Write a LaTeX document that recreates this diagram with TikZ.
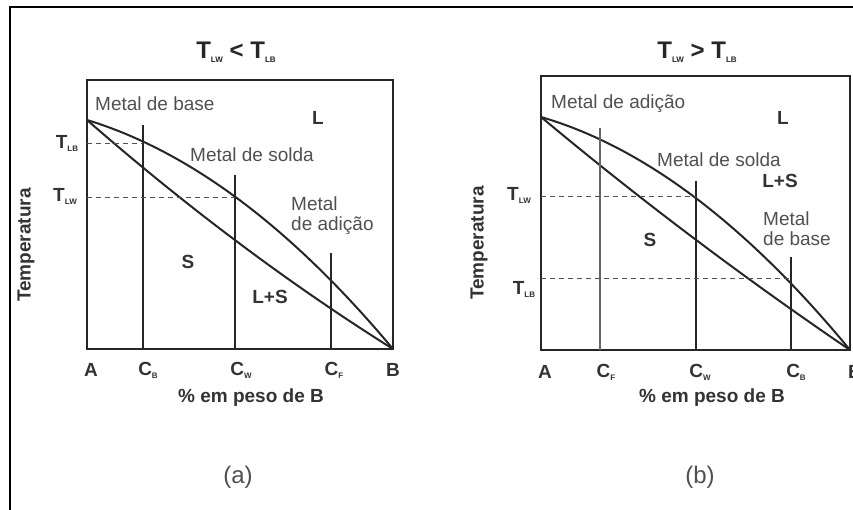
\documentclass[tikz,border=0pt]{standalone}
\usepackage{fontspec}
\setmainfont{Liberation Sans}
\usetikzlibrary{positioning}
\definecolor{lineg}{RGB}{38,38,38}
\definecolor{textg}{RGB}{80,80,80}
\newcommand{\idx}[1]{\raisebox{-0.3ex}{\fontsize{8}{8}\selectfont#1}}

\begin{document}
\begin{tikzpicture}[x=1pt,y=-1pt,
  boxframe/.style={line width=2.8pt,draw=lineg},
  curve/.style={line width=2pt,draw=lineg},
  vline/.style={line width=1.8pt,draw=lineg},
  guide/.style={line width=0.8pt,draw=lineg!80,dash pattern=on 5pt off 4pt},
  lbl/.style={font=\fontsize{19}{21}\selectfont,text=textg,inner sep=0pt,align=left},
  blbl/.style={font=\fontsize{19}{21}\selectfont\bfseries,text=black!80,inner sep=0pt},
  ttl/.style={font=\fontsize{24}{26}\selectfont\bfseries,text=black!85,inner sep=0pt}]
\clip (0,0) rectangle (853,510);
\draw[line width=2.4pt,draw=black] (10,515)--(10,7)--(860,7);
% (a) T_LW < T_LB
\node[ttl] (titlea) at (236,52) {T\idx{LW} < T\idx{LB}};
\draw[boxframe] (87,80) rectangle (393,349);
\coordinate (a0) at (87,120); \coordinate (a1) at (393,349);
\draw[curve] (a0) .. controls (189,151) and (291,227) .. (a1);
\draw[curve] (a0) .. controls (189,209) and (291,285) .. (a1);
\draw[vline] (143,125)--(143,349);
\draw[vline] (235,175)--(235,349);
\draw[vline] (331,253)--(331,349);
\draw[guide] (87,143)--(143,143);
\draw[guide] (87,197)--(235,197);
\node[blbl] (tlba) at (67,143) {T\idx{LB}};
\node[blbl] (tlwa) at (65,196) {T\idx{LW}};
\node[blbl,rotate=90] (tempa) at (26,245) {Temperatura};
\node[lbl,anchor=west] (basea) at (95,104) {Metal de base};
\node[blbl] (liqa) at (318,118) {L};
\node[lbl,anchor=west] (soldaa) at (190,155) {Metal de solda};
\node[lbl,anchor=west] (adica) at (291,216) {Metal\\[-1pt]de adição};
\node[blbl] (sola) at (188,262) {S};
\node[blbl] (lsa) at (270,297) {L+S};
\node[blbl] (aA) at (91,370) {A};
\node[blbl] (aCb) at (148,370) {C\idx{B}};
\node[blbl] (aCw) at (241,370) {C\idx{W}};
\node[blbl] (aCf) at (334,370) {C\idx{F}};
\node[blbl] (aB) at (393,370) {B};
\node[blbl] (xa) at (251,398) {\% em peso de B};
\node[font=\fontsize{24}{26}\selectfont,text=textg] (capa) at (238,477) {(a)};
% (b) T_LW > T_LB
\node[ttl] (titleb) at (697,52) {T\idx{LW} > T\idx{LB}};
\draw[boxframe] (541,76) rectangle (850,350);
\coordinate (b0) at (541,117); \coordinate (b1) at (850,350);
\draw[curve] (b0) .. controls (644,147) and (747,225) .. (b1);
\draw[curve] (b0) .. controls (644,203) and (747,280) .. (b1);
\draw[vline,draw=lineg!70,line width=2.4pt] (600,128)--(600,350);
\draw[vline] (696,181)--(696,350);
\draw[vline] (791,257)--(791,350);
\draw[guide] (541,196)--(696,196);
\draw[guide] (541,278)--(791,278);
\node[blbl] (tlwb) at (519,195) {T\idx{LW}};
\node[blbl] (tlbb) at (524,289) {T\idx{LB}};
\node[blbl,rotate=90] (tempb) at (479,243) {Temperatura};
\node[lbl,anchor=west] (adicb) at (551,104) {Metal de adição};
\node[blbl] (liqb) at (783,118) {L};
\node[lbl,anchor=west] (soldab) at (657,160) {Metal de solda};
\node[blbl] (lsb) at (780,181) {L+S};
\node[lbl,anchor=west] (baseb) at (763,229) {Metal\\[-1pt]de base};
\node[blbl] (solb) at (650,240) {S};
\node[blbl] (bA) at (545,372) {A};
\node[blbl] (bCf) at (606,372) {C\idx{F}};
\node[blbl] (bCw) at (700,372) {C\idx{W}};
\node[blbl] (bCb) at (796,372) {C\idx{B}};
\node[blbl] (bB) at (855,372) {B};
\node[blbl] (xb) at (712,398) {\% em peso de B};
\node[font=\fontsize{24}{26}\selectfont,text=textg] (capb) at (700,477) {(b)};
\end{tikzpicture}
\end{document}
